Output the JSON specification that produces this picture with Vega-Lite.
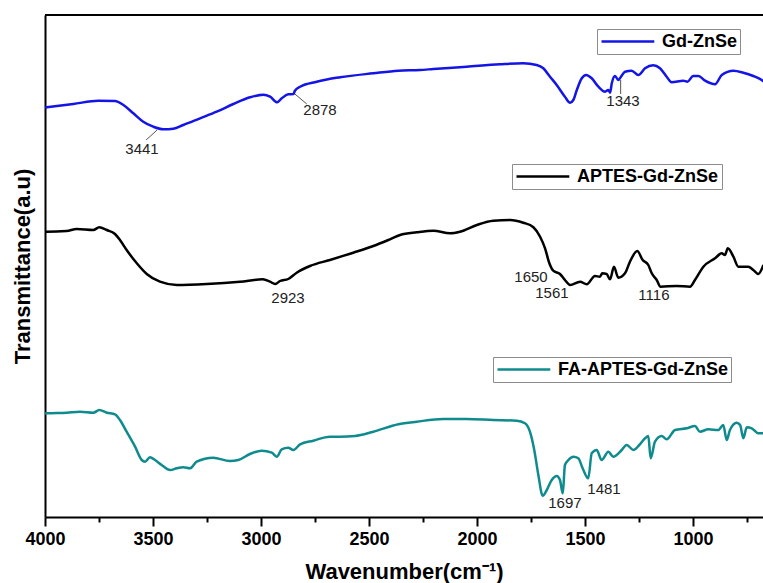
{
  "$schema": "https://vega.github.io/schema/vega-lite/v6.json",
  "width": 718,
  "height": 502,
  "autosize": {"type": "none"},
  "padding": {"left": 45, "top": 15, "right": 0, "bottom": 66},
  "background": "white",
  "config": {
    "view": {"stroke": null},
    "font": "Liberation Sans",
    "axis": {
      "domainColor": "#000", "domainWidth": 2, "tickColor": "#000", "tickWidth": 2,
      "labelFont": "Liberation Sans", "labelFontWeight": "bold", "labelFontSize": 18, "labelColor": "#000",
      "titleFont": "Liberation Sans", "titleFontWeight": "bold", "titleFontSize": 22, "titleColor": "#000",
      "grid": false
    },
    "legend": {
      "strokeColor": "#8c8c8c", "fillColor": "white", "padding": 3,
      "symbolType": "M-1,0H5.6", "symbolSize": 256, "symbolStrokeWidth": 2.5,
      "labelFont": "Liberation Sans", "labelFontWeight": "bold", "labelFontSize": 18, "labelColor": "#000",
      "labelOffset": 43, "labelLimit": 400
    }
  },
  "datasets": {
    "gd": [
      {"s":"Gd-ZnSe","w":4000,"t":409.5},{"s":"Gd-ZnSe","w":3992,"t":409.7},{"s":"Gd-ZnSe","w":3869,"t":413},{"s":"Gd-ZnSe","w":3753,"t":416.3},{"s":"Gd-ZnSe","w":3676,"t":416},{"s":"Gd-ZnSe","w":3637,"t":412},{"s":"Gd-ZnSe","w":3591,"t":403.7},{"s":"Gd-ZnSe","w":3545,"t":395.3},{"s":"Gd-ZnSe","w":3499,"t":390.3},{"s":"Gd-ZnSe","w":3452,"t":387.7},{"s":"Gd-ZnSe","w":3406,"t":388.3},{"s":"Gd-ZnSe","w":3360,"t":392},{"s":"Gd-ZnSe","w":3282,"t":398.7},{"s":"Gd-ZnSe","w":3205,"t":405.3},{"s":"Gd-ZnSe","w":3128,"t":413},{"s":"Gd-ZnSe","w":3051,"t":419.7},{"s":"Gd-ZnSe","w":2989,"t":422.3},{"s":"Gd-ZnSe","w":2958,"t":420.3},{"s":"Gd-ZnSe","w":2925,"t":414.7},{"s":"Gd-ZnSe","w":2904,"t":418.7},{"s":"Gd-ZnSe","w":2874,"t":422.7},{"s":"Gd-ZnSe","w":2850,"t":423},{"s":"Gd-ZnSe","w":2843,"t":426.3},{"s":"Gd-ZnSe","w":2819,"t":430.3},{"s":"Gd-ZnSe","w":2742,"t":435.3},{"s":"Gd-ZnSe","w":2634,"t":439.7},{"s":"Gd-ZnSe","w":2480,"t":443.7},{"s":"Gd-ZnSe","w":2364,"t":446.3},{"s":"Gd-ZnSe","w":2264,"t":447},{"s":"Gd-ZnSe","w":2202,"t":448},{"s":"Gd-ZnSe","w":2048,"t":450.3},{"s":"Gd-ZnSe","w":1894,"t":452.7},{"s":"Gd-ZnSe","w":1786,"t":453.7},{"s":"Gd-ZnSe","w":1724,"t":452},{"s":"Gd-ZnSe","w":1693,"t":448.7},{"s":"Gd-ZnSe","w":1662,"t":440.3},{"s":"Gd-ZnSe","w":1631,"t":432},{"s":"Gd-ZnSe","w":1593,"t":420.3},{"s":"Gd-ZnSe","w":1569,"t":414.3},{"s":"Gd-ZnSe","w":1554,"t":417},{"s":"Gd-ZnSe","w":1538,"t":427},{"s":"Gd-ZnSe","w":1515,"t":438.7},{"s":"Gd-ZnSe","w":1495,"t":442},{"s":"Gd-ZnSe","w":1469,"t":438.7},{"s":"Gd-ZnSe","w":1438,"t":430.3},{"s":"Gd-ZnSe","w":1407,"t":425.3},{"s":"Gd-ZnSe","w":1392,"t":427},{"s":"Gd-ZnSe","w":1384,"t":424.3},{"s":"Gd-ZnSe","w":1376,"t":433.7},{"s":"Gd-ZnSe","w":1361,"t":441},{"s":"Gd-ZnSe","w":1346,"t":437},{"s":"Gd-ZnSe","w":1335,"t":439.7},{"s":"Gd-ZnSe","w":1315,"t":445.3},{"s":"Gd-ZnSe","w":1284,"t":446.3},{"s":"Gd-ZnSe","w":1253,"t":442},{"s":"Gd-ZnSe","w":1222,"t":448.7},{"s":"Gd-ZnSe","w":1184,"t":451.7},{"s":"Gd-ZnSe","w":1153,"t":448.7},{"s":"Gd-ZnSe","w":1122,"t":440.3},{"s":"Gd-ZnSe","w":1099,"t":434.7},{"s":"Gd-ZnSe","w":1045,"t":436.3},{"s":"Gd-ZnSe","w":1026,"t":435.3},{"s":"Gd-ZnSe","w":999,"t":441},{"s":"Gd-ZnSe","w":975,"t":441},{"s":"Gd-ZnSe","w":944,"t":436.3},{"s":"Gd-ZnSe","w":898,"t":432.7},{"s":"Gd-ZnSe","w":867,"t":442},{"s":"Gd-ZnSe","w":813,"t":446.3},{"s":"Gd-ZnSe","w":767,"t":444.3},{"s":"Gd-ZnSe","w":721,"t":441},{"s":"Gd-ZnSe","w":682,"t":437},{"s":"Gd-ZnSe","w":670,"t":435}
    ],
    "aptes": [
      {"s":"APTES-Gd-ZnSe","w":4000,"t":285.3},{"s":"APTES-Gd-ZnSe","w":3992,"t":285.3},{"s":"APTES-Gd-ZnSe","w":3900,"t":286},{"s":"APTES-Gd-ZnSe","w":3853,"t":288},{"s":"APTES-Gd-ZnSe","w":3776,"t":287},{"s":"APTES-Gd-ZnSe","w":3749,"t":289.7},{"s":"APTES-Gd-ZnSe","w":3714,"t":287},{"s":"APTES-Gd-ZnSe","w":3676,"t":283},{"s":"APTES-Gd-ZnSe","w":3653,"t":277},{"s":"APTES-Gd-ZnSe","w":3622,"t":267},{"s":"APTES-Gd-ZnSe","w":3575,"t":253.7},{"s":"APTES-Gd-ZnSe","w":3529,"t":243},{"s":"APTES-Gd-ZnSe","w":3468,"t":235.3},{"s":"APTES-Gd-ZnSe","w":3390,"t":232},{"s":"APTES-Gd-ZnSe","w":3251,"t":233},{"s":"APTES-Gd-ZnSe","w":3097,"t":235.3},{"s":"APTES-Gd-ZnSe","w":2992,"t":237.7},{"s":"APTES-Gd-ZnSe","w":2958,"t":235.3},{"s":"APTES-Gd-ZnSe","w":2934,"t":233},{"s":"APTES-Gd-ZnSe","w":2912,"t":236},{"s":"APTES-Gd-ZnSe","w":2874,"t":238},{"s":"APTES-Gd-ZnSe","w":2835,"t":244.3},{"s":"APTES-Gd-ZnSe","w":2773,"t":251},{"s":"APTES-Gd-ZnSe","w":2681,"t":257},{"s":"APTES-Gd-ZnSe","w":2573,"t":264.3},{"s":"APTES-Gd-ZnSe","w":2480,"t":271},{"s":"APTES-Gd-ZnSe","w":2403,"t":277.7},{"s":"APTES-Gd-ZnSe","w":2356,"t":282},{"s":"APTES-Gd-ZnSe","w":2279,"t":284.7},{"s":"APTES-Gd-ZnSe","w":2202,"t":286.3},{"s":"APTES-Gd-ZnSe","w":2125,"t":283.7},{"s":"APTES-Gd-ZnSe","w":2079,"t":285.3},{"s":"APTES-Gd-ZnSe","w":2001,"t":292},{"s":"APTES-Gd-ZnSe","w":1925,"t":296.3},{"s":"APTES-Gd-ZnSe","w":1847,"t":297},{"s":"APTES-Gd-ZnSe","w":1786,"t":294.3},{"s":"APTES-Gd-ZnSe","w":1739,"t":289.7},{"s":"APTES-Gd-ZnSe","w":1708,"t":280.3},{"s":"APTES-Gd-ZnSe","w":1685,"t":268.7},{"s":"APTES-Gd-ZnSe","w":1665,"t":253.7},{"s":"APTES-Gd-ZnSe","w":1647,"t":246.3},{"s":"APTES-Gd-ZnSe","w":1616,"t":243},{"s":"APTES-Gd-ZnSe","w":1593,"t":237},{"s":"APTES-Gd-ZnSe","w":1569,"t":232},{"s":"APTES-Gd-ZnSe","w":1523,"t":235.3},{"s":"APTES-Gd-ZnSe","w":1492,"t":232.7},{"s":"APTES-Gd-ZnSe","w":1454,"t":241},{"s":"APTES-Gd-ZnSe","w":1431,"t":240.3},{"s":"APTES-Gd-ZnSe","w":1420,"t":243.7},{"s":"APTES-Gd-ZnSe","w":1400,"t":243},{"s":"APTES-Gd-ZnSe","w":1384,"t":237.7},{"s":"APTES-Gd-ZnSe","w":1366,"t":250.3},{"s":"APTES-Gd-ZnSe","w":1346,"t":239.3},{"s":"APTES-Gd-ZnSe","w":1315,"t":243.7},{"s":"APTES-Gd-ZnSe","w":1292,"t":255.3},{"s":"APTES-Gd-ZnSe","w":1258,"t":266},{"s":"APTES-Gd-ZnSe","w":1233,"t":257},{"s":"APTES-Gd-ZnSe","w":1207,"t":252},{"s":"APTES-Gd-ZnSe","w":1191,"t":243.7},{"s":"APTES-Gd-ZnSe","w":1168,"t":237},{"s":"APTES-Gd-ZnSe","w":1150,"t":230.3},{"s":"APTES-Gd-ZnSe","w":1076,"t":231},{"s":"APTES-Gd-ZnSe","w":1014,"t":230.3},{"s":"APTES-Gd-ZnSe","w":991,"t":237},{"s":"APTES-Gd-ZnSe","w":952,"t":250.3},{"s":"APTES-Gd-ZnSe","w":898,"t":258.7},{"s":"APTES-Gd-ZnSe","w":867,"t":263.7},{"s":"APTES-Gd-ZnSe","w":852,"t":262},{"s":"APTES-Gd-ZnSe","w":839,"t":268.7},{"s":"APTES-Gd-ZnSe","w":813,"t":260.3},{"s":"APTES-Gd-ZnSe","w":790,"t":250.3},{"s":"APTES-Gd-ZnSe","w":744,"t":250.3},{"s":"APTES-Gd-ZnSe","w":721,"t":247},{"s":"APTES-Gd-ZnSe","w":698,"t":243},{"s":"APTES-Gd-ZnSe","w":674,"t":252}
    ],
    "fa": [
      {"s":"FA-APTES-Gd-ZnSe","w":4000,"t":103.5},{"s":"FA-APTES-Gd-ZnSe","w":3992,"t":103.7},{"s":"FA-APTES-Gd-ZnSe","w":3900,"t":104.3},{"s":"FA-APTES-Gd-ZnSe","w":3838,"t":105.3},{"s":"FA-APTES-Gd-ZnSe","w":3776,"t":104.3},{"s":"FA-APTES-Gd-ZnSe","w":3749,"t":107},{"s":"FA-APTES-Gd-ZnSe","w":3714,"t":104.3},{"s":"FA-APTES-Gd-ZnSe","w":3676,"t":102.7},{"s":"FA-APTES-Gd-ZnSe","w":3653,"t":97},{"s":"FA-APTES-Gd-ZnSe","w":3622,"t":85.3},{"s":"FA-APTES-Gd-ZnSe","w":3583,"t":70.3},{"s":"FA-APTES-Gd-ZnSe","w":3552,"t":57},{"s":"FA-APTES-Gd-ZnSe","w":3537,"t":55.3},{"s":"FA-APTES-Gd-ZnSe","w":3514,"t":59.7},{"s":"FA-APTES-Gd-ZnSe","w":3491,"t":57},{"s":"FA-APTES-Gd-ZnSe","w":3460,"t":52},{"s":"FA-APTES-Gd-ZnSe","w":3421,"t":47},{"s":"FA-APTES-Gd-ZnSe","w":3390,"t":48.7},{"s":"FA-APTES-Gd-ZnSe","w":3360,"t":49.7},{"s":"FA-APTES-Gd-ZnSe","w":3329,"t":48.7},{"s":"FA-APTES-Gd-ZnSe","w":3298,"t":55.3},{"s":"FA-APTES-Gd-ZnSe","w":3221,"t":59.3},{"s":"FA-APTES-Gd-ZnSe","w":3144,"t":56},{"s":"FA-APTES-Gd-ZnSe","w":3105,"t":57},{"s":"FA-APTES-Gd-ZnSe","w":3051,"t":63},{"s":"FA-APTES-Gd-ZnSe","w":2997,"t":66.3},{"s":"FA-APTES-Gd-ZnSe","w":2950,"t":64.3},{"s":"FA-APTES-Gd-ZnSe","w":2927,"t":60.3},{"s":"FA-APTES-Gd-ZnSe","w":2904,"t":67.7},{"s":"FA-APTES-Gd-ZnSe","w":2874,"t":69.3},{"s":"FA-APTES-Gd-ZnSe","w":2850,"t":67},{"s":"FA-APTES-Gd-ZnSe","w":2819,"t":72.7},{"s":"FA-APTES-Gd-ZnSe","w":2758,"t":76.3},{"s":"FA-APTES-Gd-ZnSe","w":2681,"t":80.3},{"s":"FA-APTES-Gd-ZnSe","w":2634,"t":80.3},{"s":"FA-APTES-Gd-ZnSe","w":2565,"t":81},{"s":"FA-APTES-Gd-ZnSe","w":2480,"t":85.3},{"s":"FA-APTES-Gd-ZnSe","w":2364,"t":92.7},{"s":"FA-APTES-Gd-ZnSe","w":2279,"t":95.3},{"s":"FA-APTES-Gd-ZnSe","w":2156,"t":98},{"s":"FA-APTES-Gd-ZnSe","w":2048,"t":98},{"s":"FA-APTES-Gd-ZnSe","w":1925,"t":97},{"s":"FA-APTES-Gd-ZnSe","w":1816,"t":96.3},{"s":"FA-APTES-Gd-ZnSe","w":1778,"t":93.7},{"s":"FA-APTES-Gd-ZnSe","w":1755,"t":85.3},{"s":"FA-APTES-Gd-ZnSe","w":1735,"t":67},{"s":"FA-APTES-Gd-ZnSe","w":1716,"t":42},{"s":"FA-APTES-Gd-ZnSe","w":1696,"t":21.3},{"s":"FA-APTES-Gd-ZnSe","w":1677,"t":27},{"s":"FA-APTES-Gd-ZnSe","w":1654,"t":37},{"s":"FA-APTES-Gd-ZnSe","w":1631,"t":41},{"s":"FA-APTES-Gd-ZnSe","w":1616,"t":37},{"s":"FA-APTES-Gd-ZnSe","w":1603,"t":23.7},{"s":"FA-APTES-Gd-ZnSe","w":1593,"t":52},{"s":"FA-APTES-Gd-ZnSe","w":1577,"t":57},{"s":"FA-APTES-Gd-ZnSe","w":1554,"t":60.3},{"s":"FA-APTES-Gd-ZnSe","w":1531,"t":58.7},{"s":"FA-APTES-Gd-ZnSe","w":1511,"t":48.7},{"s":"FA-APTES-Gd-ZnSe","w":1485,"t":38.7},{"s":"FA-APTES-Gd-ZnSe","w":1469,"t":63.7},{"s":"FA-APTES-Gd-ZnSe","w":1446,"t":67},{"s":"FA-APTES-Gd-ZnSe","w":1423,"t":57},{"s":"FA-APTES-Gd-ZnSe","w":1392,"t":65.3},{"s":"FA-APTES-Gd-ZnSe","w":1369,"t":60.3},{"s":"FA-APTES-Gd-ZnSe","w":1330,"t":67},{"s":"FA-APTES-Gd-ZnSe","w":1307,"t":72},{"s":"FA-APTES-Gd-ZnSe","w":1276,"t":67},{"s":"FA-APTES-Gd-ZnSe","w":1249,"t":72},{"s":"FA-APTES-Gd-ZnSe","w":1222,"t":78.7},{"s":"FA-APTES-Gd-ZnSe","w":1207,"t":81},{"s":"FA-APTES-Gd-ZnSe","w":1196,"t":58.7},{"s":"FA-APTES-Gd-ZnSe","w":1176,"t":75.3},{"s":"FA-APTES-Gd-ZnSe","w":1145,"t":81},{"s":"FA-APTES-Gd-ZnSe","w":1122,"t":77.7},{"s":"FA-APTES-Gd-ZnSe","w":1083,"t":87},{"s":"FA-APTES-Gd-ZnSe","w":1029,"t":88.7},{"s":"FA-APTES-Gd-ZnSe","w":991,"t":91},{"s":"FA-APTES-Gd-ZnSe","w":968,"t":85.3},{"s":"FA-APTES-Gd-ZnSe","w":929,"t":87.7},{"s":"FA-APTES-Gd-ZnSe","w":883,"t":87},{"s":"FA-APTES-Gd-ZnSe","w":860,"t":92},{"s":"FA-APTES-Gd-ZnSe","w":844,"t":77},{"s":"FA-APTES-Gd-ZnSe","w":829,"t":87},{"s":"FA-APTES-Gd-ZnSe","w":798,"t":94.3},{"s":"FA-APTES-Gd-ZnSe","w":782,"t":92},{"s":"FA-APTES-Gd-ZnSe","w":767,"t":78.7},{"s":"FA-APTES-Gd-ZnSe","w":751,"t":89.7},{"s":"FA-APTES-Gd-ZnSe","w":728,"t":88.7},{"s":"FA-APTES-Gd-ZnSe","w":698,"t":83.7},{"s":"FA-APTES-Gd-ZnSe","w":674,"t":83.7}
    ],
    "ann": [
      {"label":"3441","w":3551,"t":368},
      {"label":"2878","w":2727,"t":407},
      {"label":"1343","w":1324,"t":416},
      {"label":"2923","w":2875,"t":219.5},
      {"label":"1650","w":1750,"t":240.5},
      {"label":"1561","w":1653,"t":224.5},
      {"label":"1116","w":1181,"t":222},
      {"label":"1697","w":1593,"t":14.5},
      {"label":"1481","w":1412,"t":28}
    ],
    "lead": [
      {"w":3481,"t":387,"w2":3532,"t2":377},
      {"w":2843,"t":423,"w2":2788,"t2":413},
      {"w":1335,"t":437,"w2":1335,"t2":423}
    ]
  },
  "layer": [
    {
      "data": {"name": "gd"},
      "mark": {"type": "line", "strokeWidth": 2.5, "clip": true, "interpolate": "monotone"},
      "encoding": {
        "x": {
          "field": "w", "type": "quantitative",
          "scale": {"domain": [676, 4000], "reverse": true, "nice": false, "zero": false},
          "axis": {
            "title": "Wavenumber(cm⁻¹)",
            "values": [4000, 3750, 3500, 3250, 3000, 2750, 2500, 2250, 2000, 1750, 1500, 1250, 1000, 750],
            "format": "d",
            "labelExpr": "datum.value % 500 === 0 ? datum.label : ''",
            "tickSize": {"condition": {"test": "datum.value % 500 === 0", "value": 9}, "value": 5},
            "labelOverlap": false, "labelFlush": false, "labelPadding": 4, "titlePadding": 13
          }
        },
        "y": {
          "field": "t", "type": "quantitative",
          "scale": {"domain": [0, 502], "nice": false, "zero": false},
          "axis": {"title": "Transmittance(a.u)", "labels": false, "ticks": false, "titlePadding": 11}
        },
        "color": {
          "field": "s", "type": "nominal",
          "scale": {"range": ["#1414e6"]},
          "legend": {"orient": "none", "legendX": 552, "legendY": 14, "title": null}
        }
      }
    },
    {
      "data": {"name": "aptes"},
      "mark": {"type": "line", "strokeWidth": 2.5, "clip": true, "interpolate": "monotone"},
      "encoding": {
        "x": {"field": "w", "type": "quantitative"},
        "y": {"field": "t", "type": "quantitative"},
        "color": {
          "field": "s", "type": "nominal",
          "scale": {"range": ["#000000"]},
          "legend": {"orient": "none", "legendX": 467, "legendY": 149, "title": null}
        }
      }
    },
    {
      "data": {"name": "fa"},
      "mark": {"type": "line", "strokeWidth": 2.5, "clip": true, "interpolate": "monotone"},
      "encoding": {
        "x": {"field": "w", "type": "quantitative"},
        "y": {"field": "t", "type": "quantitative"},
        "color": {
          "field": "s", "type": "nominal",
          "scale": {"range": ["#0f8b8d"]},
          "legend": {"orient": "none", "legendX": 448, "legendY": 342, "title": null}
        }
      }
    },
    {
      "data": {"name": "lead"},
      "mark": {"type": "rule", "color": "#555555", "strokeWidth": 1},
      "encoding": {
        "x": {"field": "w", "type": "quantitative"},
        "y": {"field": "t", "type": "quantitative"},
        "x2": {"field": "w2"},
        "y2": {"field": "t2"}
      }
    },
    {
      "data": {"name": "ann"},
      "mark": {"type": "text", "fontSize": 15, "font": "Liberation Sans", "color": "#222222", "align": "center", "baseline": "middle"},
      "encoding": {
        "x": {"field": "w", "type": "quantitative"},
        "y": {"field": "t", "type": "quantitative"},
        "text": {"field": "label"}
      }
    },
    {
      "data": {"values": [{"t": 502}]},
      "mark": {"type": "rule", "color": "#000000", "strokeWidth": 2},
      "encoding": {
        "y": {"field": "t", "type": "quantitative"}
      }
    }
  ],
  "resolve": {"scale": {"color": "independent"}}
}
